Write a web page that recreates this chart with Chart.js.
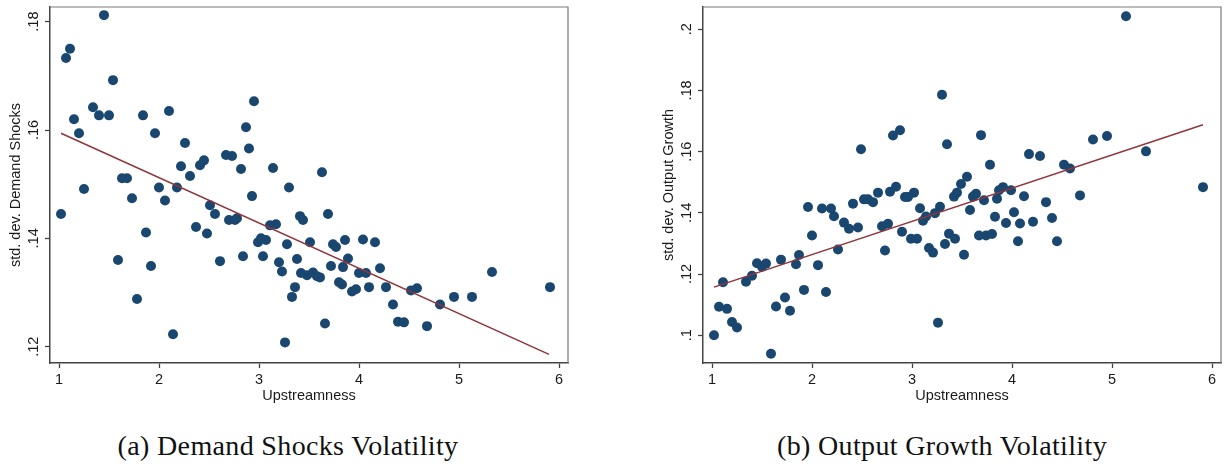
<!DOCTYPE html>
<html>
<head>
<meta charset="utf-8">
<script src="https://cdn.jsdelivr.net/npm/chart.js@4.4.0/dist/chart.umd.min.js"></script>
<style>
  body { margin: 0; width: 1226px; height: 469px; background: #fff; position: relative; overflow: hidden; }
  canvas { position: absolute; top: 0; }
  .cap { position: absolute; top: 430px; width: 500px; text-align: center;
         font-family: "Liberation Serif", serif; font-size: 28px; letter-spacing: 0.35px; color: #111; }
</style>
</head>
<body>
<canvas id="demandChart" width="580" height="410" style="left:0px"></canvas>
<canvas id="outputChart" width="573" height="410" style="left:653px"></canvas>
<div class="cap" style="left:38px">(a) Demand Shocks Volatility</div>
<div class="cap" style="left:692px">(b) Output Growth Volatility</div>
<script>
// valores (a)
const upstreamA = [1.02, 1.07, 1.11, 1.15, 1.20, 1.25, 1.34, 1.40, 1.45, 1.50, 1.54, 1.59, 1.63, 1.68, 1.73, 1.78,
  1.84, 1.87, 1.92, 1.96, 2.00, 2.06, 2.10, 2.14, 2.18, 2.22, 2.26, 2.31, 2.37, 2.41, 2.45, 2.48, 2.51, 2.56, 2.61,
  2.67, 2.70, 2.73, 2.76, 2.78, 2.82, 2.84, 2.87, 2.90, 2.93, 2.95, 2.99, 3.02, 3.04, 3.07, 3.11, 3.14, 3.17, 3.20,
  3.23, 3.26, 3.28, 3.30, 3.33, 3.36, 3.38, 3.41, 3.42, 3.44, 3.48, 3.51, 3.54, 3.58, 3.61, 3.63, 3.66, 3.69, 3.72,
  3.74, 3.77, 3.80, 3.83, 3.84, 3.86, 3.89, 3.93, 3.97, 4.00, 4.04, 4.07, 4.10, 4.16, 4.21, 4.27, 4.34, 4.39, 4.45,
  4.52, 4.58, 4.68, 4.81, 4.95, 5.13, 5.33, 5.91]
const demandVol = [.1445, .1733, .1750, .1620, .1594, .1491, .1642, .1627, .1812, .1627, .1692, .1360, .1511, .1511,
  .1474, .1288, .1627, .1411, .1349, .1594, .1494, .1470, .1635, .1223, .1494, .1533, .1576, .1515, .1421, .1535,
  .1544, .1409, .1461, .1445, .1358, .1554, .1434, .1552, .1434, .1437, .1528, .1367, .1605, .1566, .1478, .1653,
  .1393, .1400, .1367, .1397, .1424, .1530, .1426, .1356, .1339, .1208, .1389, .1494, .1292, .1310, .1362, .1441,
  .1336, .1434, .1332, .1393, .1337, .1330, .1328, .1522, .1243, .1445, .1349, .1389, .1384, .1319, .1315, .1347,
  .1397, .1363, .1302, .1306, .1336, .1398, .1336, .1310, .1393, .1345, .1310, .1278, .1246, .1245, .1304, .1308,
  .1238, .1278, .1292, .1292, .1338, .1310]
const fitAx = [1.02, 5.90]
const fitAy = [.1594, .1186]

// valores (b)
const upstreamB = [1.02, 1.07, 1.11, 1.15, 1.20, 1.25, 1.34, 1.40, 1.45, 1.50, 1.54, 1.59, 1.64, 1.69, 1.73, 1.78,
  1.84, 1.87, 1.92, 1.96, 2.00, 2.06, 2.10, 2.14, 2.19, 2.22, 2.26, 2.32, 2.37, 2.41, 2.46, 2.49, 2.52, 2.56, 2.61,
  2.66, 2.70, 2.73, 2.76, 2.78, 2.81, 2.84, 2.88, 2.90, 2.93, 2.96, 2.99, 3.02, 3.05, 3.08, 3.11, 3.14, 3.17, 3.21,
  3.23, 3.26, 3.28, 3.30, 3.33, 3.35, 3.37, 3.42, 3.43, 3.45, 3.49, 3.52, 3.55, 3.58, 3.61, 3.64, 3.67, 3.69, 3.72,
  3.74, 3.78, 3.80, 3.83, 3.85, 3.87, 3.91, 3.94, 3.99, 4.02, 4.06, 4.08, 4.12, 4.17, 4.21, 4.28, 4.34, 4.40, 4.45,
  4.52, 4.58, 4.68, 4.81, 4.95, 5.14, 5.34, 5.91]
const outputVol = [.1000, .1093, .1173, .1086, .1043, .1025, .1175, .1194, .1235, .1224, .1234, .0939, .1094, .1247,
  .1123, .1080, .1232, .1262, .1148, .1419, .1326, .1229, .1414, .1141, .1414, .1389, .1280, .1368, .1348, .1430,
  .1352, .1608, .1444, .1444, .1435, .1466, .1356, .1277, .1364, .1469, .1653, .1485, .1670, .1338, .1452, .1452,
  .1315, .1466, .1315, .1415, .1374, .1388, .1285, .1270, .1399, .1041, .1420, .1786, .1298, .1624, .1332, .1453,
  .1315, .1466, .1494, .1263, .1518, .1409, .1453, .1462, .1326, .1654, .1441, .1326, .1557, .1331, .1387, .1446,
  .1474, .1484, .1367, .1474, .1402, .1307, .1365, .1454, .1592, .1371, .1586, .1435, .1383, .1307, .1557, .1545,
  .1457, .1640, .1651, .2043, .1601, .1484]
const fitBx = [1.02, 5.91]
const fitBy = [.1157, .1688]

// ticks
const xTicks = [1, 2, 3, 4, 5, 6]
const yTicksA = [.12, .14, .16, .18]
const yTicksB = [.1, .12, .14, .16, .18, .2]

const AXIS = '#444', TXT = '#1a1a1a', DOT = '#1a476f', FIT = '#90353b'
const FONT = { family: '"Liberation Sans", Arial, sans-serif', size: 14.5 }

// marco superior y derecho (gris claro, como Stata)
const framePlugin = {
  id: 'frame',
  beforeDatasetsDraw(chart) {
    const a = chart.chartArea, c = chart.ctx
    c.save()
    c.strokeStyle = '#7a7a7a'
    c.lineWidth = 1.2
    c.beginPath()
    c.moveTo(a.left, a.top)
    c.lineTo(a.right, a.top)
    c.lineTo(a.right, a.bottom)
    c.stroke()
    c.restore()
  }
}

function makeChart(id, xs, ys, fx, fy, yTicks, yMin, yMax, yTitle, padRight) {
  let points = [], fit = []
  for (let i = 0; i < xs.length; i++) points.push({ x: xs[i], y: ys[i] })
  for (let i = 0; i < fx.length; i++) fit.push({ x: fx[i], y: fy[i] })

  return new Chart(document.getElementById(id), {
    type: 'scatter',
    data: {
      datasets: [{
        data: fit, showLine: true, borderColor: FIT, borderWidth: 1.5,
        pointRadius: 0, order: 0
      }, {
        data: points, backgroundColor: DOT, borderWidth: 0,
        pointRadius: 5, pointHoverRadius: 5, order: 1
      }]
    },
    options: {
      responsive: false,
      animation: false,
      layout: { padding: { left: 0, top: 7, right: padRight, bottom: 0 } },
      plugins: { legend: { display: false }, tooltip: { enabled: false } },
      scales: {
        x: {
          type: 'linear', min: 0.91, max: 6.09,
          afterBuildTicks: s => { s.ticks = xTicks.map(v => ({ value: v })) },
          afterFit: s => { s.height = 47; s.paddingLeft = 0; s.paddingRight = 0 },
          ticks: { font: FONT, color: TXT, padding: 3, autoSkip: false, maxRotation: 0 },
          grid: { drawOnChartArea: false, tickLength: 5, color: AXIS, tickWidth: 1.3 },
          border: { color: AXIS, width: 1.5 },
          title: { display: true, text: 'Upstreamness', font: FONT, color: TXT, padding: { top: 0, bottom: 5 } }
        },
        y: {
          type: 'linear', min: yMin, max: yMax,
          afterBuildTicks: s => { s.ticks = yTicks.map(v => ({ value: v })) },
          afterFit: s => { s.width = 50; s.paddingTop = 0; s.paddingBottom = 0 },
          ticks: {
            font: FONT, color: TXT, padding: 1, autoSkip: false,
            minRotation: 90, maxRotation: 90, crossAlign: 'center',
            callback: v => String(v).replace(/^0/, '')
          },
          grid: { drawOnChartArea: false, tickLength: 5, color: AXIS, tickWidth: 1.3 },
          border: { color: AXIS, width: 1.5 },
          title: { display: true, text: yTitle, font: FONT, color: TXT, padding: { top: 7, bottom: 0 } }
        }
      }
    },
    plugins: [framePlugin]
  })
}

makeChart('demandChart', upstreamA, demandVol, fitAx, fitAy, yTicksA, 0.1170, 0.1827, 'std. dev. Demand Shocks', 12)
makeChart('outputChart', upstreamB, outputVol, fitBx, fitBy, yTicksB, 0.0909, 0.2073, 'std. dev. Output Growth', 4)
</script>
</body>
</html>
